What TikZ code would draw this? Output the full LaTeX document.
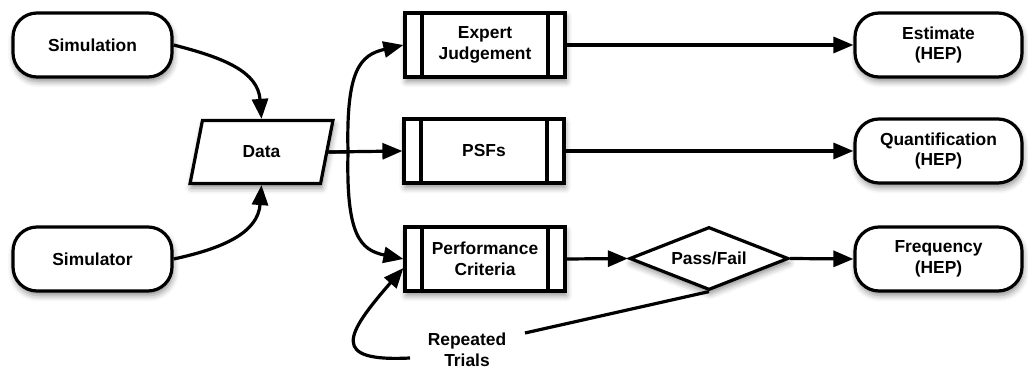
\documentclass[tikz,border=0pt]{standalone}
\usepackage{fontspec}
\setmainfont{Liberation Sans}
\usetikzlibrary{arrows.meta,shapes.geometric,shadows.blur}
\tikzset{
  lbl/.style={font=\bfseries\fontsize{8.7}{10.4}\selectfont, align=center, inner sep=0pt},
  shd/.style={blur shadow={shadow xshift=0.6pt, shadow yshift=-2.2pt, shadow blur radius=3pt, shadow opacity=45}},
  terminal/.style={lbl, draw, line width=1.6pt, fill=white, rounded corners=12pt, minimum height=32pt, shd},
  procbox/.style={lbl, draw, line width=1.6pt, fill=white, minimum width=80pt, minimum height=32pt, shd,
    path picture={\draw[line width=1.6pt]
      ([xshift=8.5pt]path picture bounding box.north west) -- ([xshift=8.5pt]path picture bounding box.south west)
      ([xshift=-8.5pt]path picture bounding box.north east) -- ([xshift=-8.5pt]path picture bounding box.south east);}},
  iobox/.style={lbl, draw, line width=1.6pt, fill=white, trapezium, trapezium left angle=72, trapezium right angle=108,
    trapezium stretches=true, minimum width=71.5pt, minimum height=31.5pt, shd},
  decision/.style={lbl, draw, line width=1.6pt, fill=white, diamond, shape aspect=2.5, minimum width=79.5pt, minimum height=31.5pt, shd},
  arr/.style={line width=1.6pt, line join=round, -{Triangle[length=10pt,width=8pt]}},
  plain/.style={line width=1.6pt, line join=round}
}
\begin{document}
\begin{tikzpicture}[x=0.5pt,y=-0.5pt]
\useasboundingbox (0,0) rectangle (1028,368);

\node[terminal, minimum width=79.5pt] (sim) at (92.5,45) {Simulation};
\node[terminal, minimum width=79.5pt] (simr) at (92.5,259) {Simulator};
\node[iobox] (data) at (261.5,152) {Data};

\node[procbox] (expert) at (485,45) {Expert\\Judgement};
\node[procbox] (psf) at (484,151) {PSFs};
\node[procbox] (perf) at (485,259) {Performance\\Criteria};

\node[decision] (pf) at (709,258.5) {Pass/Fail};

\node[terminal, minimum width=83.5pt] (est) at (938.5,45) {Estimate\\(HEP)};
\node[terminal, minimum width=83.5pt] (quant) at (938.5,151) {Quantification\\(HEP)};
\node[terminal, minimum width=83.5pt] (freq) at (938.5,259) {Frequency\\(HEP)};

\node[lbl] (rt) at (467,350) {Repeated\\Trials};

\coordinate (split) at (348,152);
\coordinate (rtin) at (525,333);
\coordinate (rtout) at (410,358);

\draw[arr] (sim.east) .. controls (225,58) and (258,72) .. (data.north);
\draw[arr] (simr.east) .. controls (225,248) and (258,232) .. (data.south);
\draw[arr] (data.east) -- (psf.west);
\draw[plain] (data.east) -- (split);
\draw[arr] (split) .. controls (346,70) and (360,55) .. (expert.west);
\draw[arr] (split) .. controls (346,235) and (360,250) .. (perf.west);

\draw[arr] (expert.east) -- (est.west);
\draw[arr] (psf.east) -- (quant.west);
\draw[arr] (perf.east) -- (pf.west);
\draw[arr] (pf.east) -- (freq.west);

\draw[plain] (pf.south) -- (rtin);
\draw[arr] (rtout) .. controls (330,362) and (345,335) .. ([yshift=-4.5pt]perf.west);
\end{tikzpicture}
\end{document}
